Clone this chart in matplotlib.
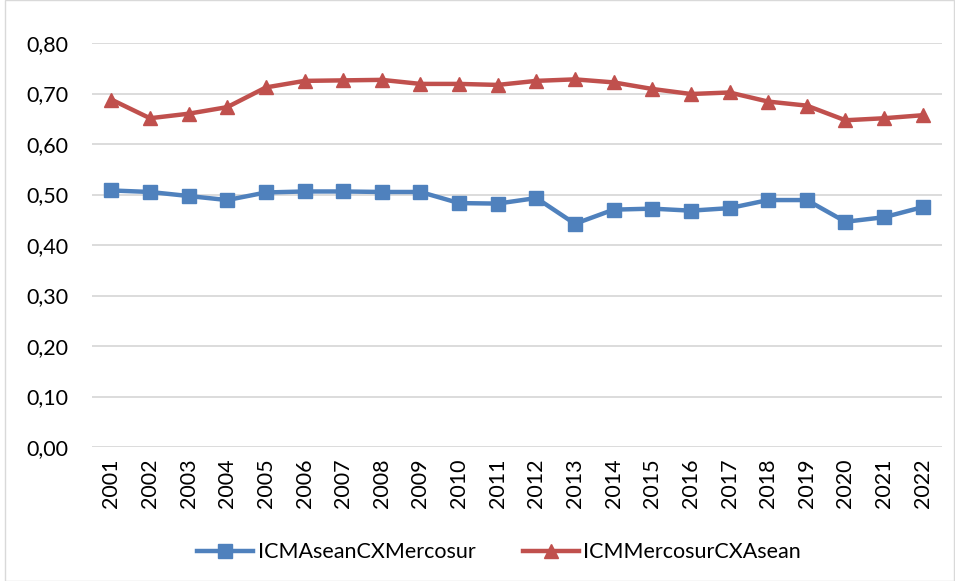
import numpy as np
import matplotlib.pyplot as plt
from matplotlib.patches import Rectangle

plt.rcParams['font.family'] = ['Lato', 'DejaVu Sans']

# data
years = [str(y) for y in range(2001, 2023)]
icm_asean_cx_mercosur = [0.508, 0.505, 0.497, 0.489, 0.504, 0.506, 0.506, 0.505, 0.505, 0.483,
                         0.482, 0.493, 0.442, 0.470, 0.472, 0.468, 0.473, 0.489, 0.489, 0.446,
                         0.455, 0.475]
icm_mercosur_cx_asean = [0.688, 0.651, 0.660, 0.673, 0.712, 0.725, 0.726, 0.727, 0.719, 0.719,
                         0.717, 0.725, 0.728, 0.722, 0.709, 0.699, 0.702, 0.684, 0.676, 0.647,
                         0.651, 0.657]
yticks = [0.0, 0.1, 0.2, 0.3, 0.4, 0.5, 0.6, 0.7, 0.8]
ytick_labels = ['0,00', '0,10', '0,20', '0,30', '0,40', '0,50', '0,60', '0,70', '0,80']

blue = '#4F81BD'
red = '#C0504D'
fs = 15.5

fig = plt.figure(figsize=(9.55, 5.81), dpi=100)
ax = fig.add_axes([92/955, 1 - 447/581, 850/955, 404/581])

x = np.arange(len(years))
ax.plot(x, icm_asean_cx_mercosur, color=blue, lw=3.2, marker='s', ms=10.5,
        label='ICMAseanCXMercosur', zorder=3)
ax.plot(x, icm_mercosur_cx_asean, color=red, lw=3.2, marker='^', ms=10.5,
        label='ICMMercosurCXAsean', zorder=3)

ax.set_xlim(-0.5, len(years) - 0.5)
ax.set_ylim(0, 0.8)
ax.set_yticks(yticks)
ax.set_yticklabels(ytick_labels, fontsize=fs)
ax.set_xticks(x)
ax.set_xticklabels(years, rotation=90, fontsize=fs)
ax.tick_params(length=0, pad=8)
ax.tick_params(axis='y', pad=17)

ax.grid(axis='y', color='#D9D9D9', lw=1.3)
ax.set_axisbelow(True)
for s in ax.spines.values():
    s.set_visible(False)

ax.legend(loc='center', bbox_to_anchor=(0.479, -0.26), ncol=2, frameon=False,
          fontsize=fs, handlelength=2.6, handletextpad=0.2, columnspacing=2.2)

# chart area border
fig.patches.append(Rectangle((5/955, 0.0), 0.999 - 5/955, 1.0, transform=fig.transFigure,
                             fill=False, edgecolor='#D9D9D9', lw=1))

fig.savefig('out.png', dpi=100)
